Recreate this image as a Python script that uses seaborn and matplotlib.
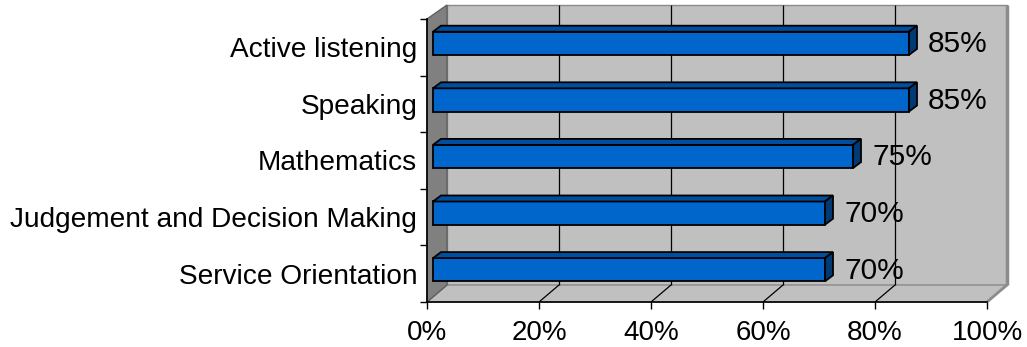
import matplotlib
matplotlib.use("Agg")
import matplotlib.pyplot as plt
import seaborn as sns
import pandas as pd
from matplotlib.patches import Polygon, Rectangle
from matplotlib.lines import Line2D
from matplotlib.transforms import Affine2D, ScaledTranslation

# ---- data -------------------------------------------------------------
skills = [
    "Active listening",
    "Speaking",
    "Mathematics",
    "Judgement and Decision Making",
    "Service Orientation",
]
shares = [0.85, 0.85, 0.75, 0.70, 0.70]
value_labels = ["85%", "85%", "75%", "70%", "70%"]
xtick_values = [0.0, 0.2, 0.4, 0.6, 0.8, 1.0]
xtick_labels = ["0%", "20%", "40%", "60%", "80%", "100%"]

df = pd.DataFrame({"skill": skills, "share": shares})

# ---- figure geometry (pixels) -----------------------------------------
W, H, DPI = 1027, 347, 100
FX0, FX1 = 427, 987          # front plane, left/right
FY0, FY1 = 19, 302           # front plane, top/bottom
DEPTH_X, DEPTH_TOP, DEPTH_BOT = 20, 14, 17   # wall depth offsets
BAR_DX, BAR_DY = 6, 4        # bars sit a little behind the front plane
FACE_DX, FACE_DY = 8, 6      # 3D thickness of each bar

FRONT = "#0066CC"
TOP = "#004F9E"
SIDE = "#003A75"
WALL = "#C0C0C0"
SIDE_WALL = "#808080"

sns.set_style("white")
plt.rcParams["font.family"] = ["Liberation Sans", "DejaVu Sans"]
plt.rcParams["text.color"] = "black"
plt.rcParams["xtick.color"] = "black"
plt.rcParams["ytick.color"] = "black"

fig = plt.figure(figsize=(W / DPI, H / DPI), dpi=DPI)
fig.patch.set_facecolor("white")
ax = fig.add_axes([FX0 / W, 1 - FY1 / H, (FX1 - FX0) / W, (FY1 - FY0) / H])
ax.patch.set_alpha(0)

# pixel coordinates (origin top-left) -> figure
pix = Affine2D().scale(1 / W, -1 / H).translate(0, 1) + fig.transFigure


def poly(pts, fc, ec, lw=1.0, z=0.5):
    p = Polygon(pts, closed=True, facecolor=fc, edgecolor=ec, linewidth=lw,
                transform=pix, clip_on=False, zorder=z)
    ax.add_patch(p)


def line(xs, ys, color, lw=1.0, z=0.6):
    ax.add_line(Line2D(xs, ys, color=color, linewidth=lw, transform=pix,
                       clip_on=False, zorder=z, solid_capstyle="butt"))


BX0, BX1 = FX0 + DEPTH_X, FX1 + DEPTH_X
BY0, BY1 = FY0 - DEPTH_TOP, FY1 - DEPTH_BOT

# back wall, floor, side wall
poly([(BX0, BY0), (BX1, BY0), (BX1, BY1), (BX0, BY1)], WALL, "#8A8A8A", 1.0, 0.3)
poly([(FX0, FY1), (BX0, BY1), (BX1, BY1), (FX1, FY1)], WALL, "#8A8A8A", 1.0, 0.35)
poly([(FX0, FY0), (BX0, BY0), (BX0, BY1), (FX0, FY1)], SIDE_WALL, "#606060", 1.0, 0.4)
line([BX1, BX1], [BY0, BY1], "#8C8C8C", 2.5, 0.45)
line([FX1, BX1], [FY1, BY1], "#8C8C8C", 2.0, 0.45)

# grid lines on the back wall and the floor
for v in xtick_values[1:-1]:
    fx = FX0 + v * (FX1 - FX0)
    line([fx + DEPTH_X, fx + DEPTH_X], [BY0, BY1], "black", 0.9, 0.5)
    line([fx, fx + DEPTH_X], [FY1, BY1], "black", 0.9, 0.5)

# ---- bars -------------------------------------------------------------
sns.barplot(data=df, x="share", y="skill", orient="h", width=0.41,
            color=FRONT, saturation=1, edgecolor="black", linewidth=1.3,
            ax=ax, zorder=2)

ax.set_xlim(0, 1)
ax.set_ylim(len(skills) - 0.5, -0.5)

shift = ScaledTranslation(BAR_DX / DPI, BAR_DY / DPI, fig.dpi_scale_trans)
ddx = FACE_DX / (FX1 - FX0)
ddy = FACE_DY / ((FY1 - FY0) / len(skills))

for patch in list(ax.patches):
    if not isinstance(patch, Rectangle):
        continue
    x0, y0 = patch.get_x(), patch.get_y()
    w, h = patch.get_width(), patch.get_height()
    if w <= 0:
        continue
    patch.set_transform(ax.transData + shift)
    patch.set_clip_on(False)
    yt, yb = y0, y0 + h
    top = Polygon([(x0, yt), (x0 + w, yt), (x0 + w + ddx, yt - ddy), (x0 + ddx, yt - ddy)],
                  closed=True, facecolor=TOP, edgecolor="black", linewidth=1.3,
                  transform=ax.transData + shift, clip_on=False, zorder=2.1)
    side = Polygon([(x0 + w, yt), (x0 + w + ddx, yt - ddy), (x0 + w + ddx, yb - ddy), (x0 + w, yb)],
                   closed=True, facecolor=SIDE, edgecolor="black", linewidth=1.3,
                   transform=ax.transData + shift, clip_on=False, zorder=2.1)
    ax.add_patch(top)
    ax.add_patch(side)

# value labels
for i, (v, lab) in enumerate(zip(shares, value_labels)):
    ax.annotate(lab, xy=(v, i), xytext=(BAR_DX + 19, BAR_DY - 1),
                textcoords="offset pixels", ha="left", va="center",
                fontsize=21.5, color="black", zorder=3, annotation_clip=False)

# ---- axes dressing ----------------------------------------------------
ax.set_xlabel("")
ax.set_ylabel("")
ax.set_xticks(xtick_values)
ax.set_xticklabels(xtick_labels, fontsize=20)
ax.set_yticks(range(len(skills)))
ax.set_yticklabels(skills, fontsize=20.2)
ax.set_yticks([i - 0.5 for i in range(len(skills) + 1)], minor=True)
ax.tick_params(axis="y", which="major", length=0, pad=7)
ax.tick_params(axis="y", which="minor", length=5, width=1, color="black",
               direction="out", left=True)
ax.tick_params(axis="x", which="major", length=5, width=1, color="black",
               direction="out", bottom=True, pad=8)
for side_name in ["top", "right"]:
    ax.spines[side_name].set_visible(False)
for side_name in ["left", "bottom"]:
    ax.spines[side_name].set_visible(True)
    ax.spines[side_name].set_color("black")
    ax.spines[side_name].set_linewidth(1.2)
    ax.spines[side_name].set_zorder(1)
ax.grid(False)

fig.savefig("out.png", dpi=DPI, facecolor="white")
